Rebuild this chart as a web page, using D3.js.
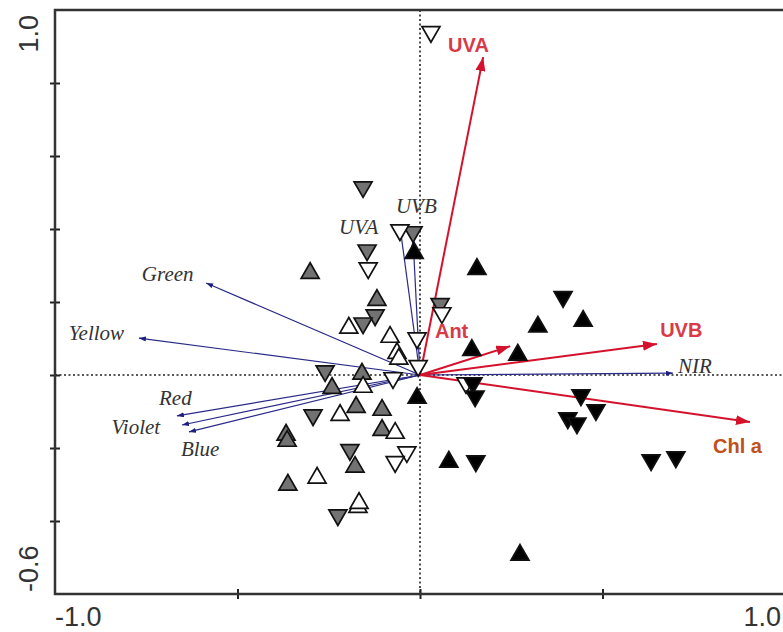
<!DOCTYPE html>
<html>
<head>
<meta charset="utf-8">
<script src="https://cdn.jsdelivr.net/npm/d3@7"></script>
<style>
  body { margin: 0; background: #fff; }
  .tick-label { font-family: "Liberation Sans", Arial, sans-serif; font-size: 27px; fill: #333; }
  .light-label { font-family: "Liberation Serif", "Times New Roman", serif; font-style: italic; font-size: 21px; fill: #333; }
  .env-label { font-family: "Liberation Sans", Arial, sans-serif; font-weight: bold; font-size: 20px; }
</style>
</head>
<body>
<svg id="chart"></svg>
<script>
// sample scores, by group (fill) and shape
const blackUp = [[0.156, 0.290], [-0.016, 0.334], [0.323, 0.132], [0.447, 0.148], [0.268, 0.055],
  [0.142, 0.068], [-0.008, -0.063], [0.079, -0.238], [0.274, -0.493]];
const blackDown = [[0.392, 0.214], [0.145, -0.022], [0.151, -0.058], [0.441, -0.055], [0.482, -0.096],
  [0.405, -0.118], [0.430, -0.132], [0.153, -0.236], [0.633, -0.233], [0.701, -0.225]];
const grayUp = [[-0.301, 0.279], [-0.118, 0.205], [-0.159, 0.003], [-0.241, -0.036], [-0.175, -0.088],
  [-0.104, -0.096], [-0.367, -0.164], [-0.364, -0.181], [-0.104, -0.151], [-0.178, -0.252], [-0.362, -0.301]];
const grayDown = [[-0.156, 0.515], [-0.019, 0.392], [-0.145, 0.342], [-0.123, 0.164], [-0.156, 0.142],
  [0.055, 0.195], [-0.260, 0.011], [-0.293, -0.110], [-0.192, -0.205], [-0.225, -0.384]];
const whiteUp = [[-0.195, 0.129], [-0.082, 0.104], [-0.063, 0.060], [-0.058, 0.044], [-0.156, -0.033],
  [-0.219, -0.110], [-0.068, -0.159], [-0.282, -0.282], [-0.170, -0.362], [-0.167, -0.351]];
const whiteDown = [[0.030, 0.940], [-0.055, 0.397], [-0.142, 0.293], [0.060, 0.170], [-0.008, 0.101],
  [-0.005, 0.025], [-0.074, -0.008], [-0.036, -0.211], [-0.068, -0.238], [0.126, -0.022]];

// environmental vectors (red) and light vectors (blue)
const envNames = ["UVA", "UVB", "Ant", "Chl a"];
const envTips = [[0.173, 0.871], [0.649, 0.085], [0.247, 0.079], [0.904, -0.129]];
const envLabelAt = [[0.077, 0.885], [0.658, 0.104], [0.041, 0.101], [0.803, -0.214]];

const lightNames = ["Green", "Yellow", "Red", "Violet", "Blue", "UVA", "UVB", "NIR"];
const lightTips = [[-0.586, 0.252], [-0.770, 0.101], [-0.666, -0.112], [-0.652, -0.137],
  [-0.633, -0.156], [-0.055, 0.408], [-0.019, 0.370], [0.693, 0.005]];
const lightLabelAt = [[-0.762, 0.258], [-0.962, 0.096], [-0.715, -0.082], [-0.845, -0.162],
  [-0.655, -0.222], [-0.222, 0.386], [-0.066, 0.444], [0.707, 0.005]];

const xTicks = [-0.5, 0, 0.5];
const yTicks = [-0.4, -0.2, 0, 0.2, 0.4, 0.6, 0.8];
const xEndLabels = ["-1.0", "1.0"];
const yEndLabels = ["-0.6", "1.0"];

const width = 783, height = 632;
const svg = d3.select("#chart").attr("width", width).attr("height", height);

const x = d3.scaleLinear().domain([-1, 1]).range([55, 785]);
const y = d3.scaleLinear().domain([-0.6, 1.0]).range([594, 10]);

// arrow heads
const defs = svg.append("defs");
defs.append("marker").attr("id", "headRed")
    .attr("viewBox", "0 0 14 10").attr("refX", 14).attr("refY", 5)
    .attr("markerWidth", 14).attr("markerHeight", 10)
    .attr("markerUnits", "userSpaceOnUse").attr("orient", "auto")
  .append("path").attr("d", "M0,0L14,5L0,10z").attr("fill", "#d4122c");
defs.append("marker").attr("id", "headBlue")
    .attr("viewBox", "0 0 7 5").attr("refX", 7).attr("refY", 2.5)
    .attr("markerWidth", 7).attr("markerHeight", 5)
    .attr("markerUnits", "userSpaceOnUse").attr("orient", "auto")
  .append("path").attr("d", "M0,0L7,2.5L0,5z").attr("fill", "#1f1f80");

// dotted zero lines
svg.append("line").attr("x1", x(0)).attr("x2", x(0)).attr("y1", y(1.0)).attr("y2", y(-0.6))
    .attr("stroke", "#222").attr("stroke-width", 1.6).attr("stroke-dasharray", "2,2.5");
svg.append("line").attr("x1", x(-1)).attr("x2", x(1)).attr("y1", y(0)).attr("y2", y(0))
    .attr("stroke", "#222").attr("stroke-width", 1.6).attr("stroke-dasharray", "2,2.5");

// axes: ticks crossing the frame
const yAxis = svg.append("g").attr("transform", `translate(${x(-1) + 5},0)`)
    .call(d3.axisLeft(y).tickValues(yTicks).tickSize(10).tickFormat(""));
const xAxis = svg.append("g").attr("transform", `translate(0,${y(-0.6) - 5})`)
    .call(d3.axisBottom(x).tickValues(xTicks).tickSize(10).tickFormat(""));
[yAxis, xAxis].forEach(g => {
  g.select(".domain").remove();
  g.selectAll(".tick line").attr("stroke", "#222").attr("stroke-width", 2);
});

// frame (left, top, bottom)
svg.append("path")
    .attr("d", `M${x(1) + 5},${y(1.0)}H${x(-1)}V${y(-0.6)}H${x(1) + 5}`)
    .attr("fill", "none").attr("stroke", "#333").attr("stroke-width", 2.5);

// end tick labels
svg.append("text").attr("class", "tick-label").attr("x", x(-1)).attr("y", 626)
    .attr("text-anchor", "start").text(xEndLabels[0]);
svg.append("text").attr("class", "tick-label").attr("x", 781).attr("y", 626)
    .attr("text-anchor", "end").text(xEndLabels[1]);
svg.append("text").attr("class", "tick-label").attr("transform", `translate(38,${y(-0.6) - 2}) rotate(-90)`)
    .attr("text-anchor", "start").text(yEndLabels[0]);
svg.append("text").attr("class", "tick-label").attr("transform", `translate(38,${y(1.0) + 5}) rotate(-90)`)
    .attr("text-anchor", "end").text(yEndLabels[1]);

// light vectors
svg.append("g").selectAll("line").data(lightTips).join("line")
    .attr("x1", x(0)).attr("y1", y(0))
    .attr("x2", d => x(d[0])).attr("y2", d => y(d[1]))
    .attr("stroke", "#2a2a88").attr("stroke-width", 1.2)
    .attr("marker-end", "url(#headBlue)");

// environmental vectors
svg.append("g").selectAll("line").data(envTips).join("line")
    .attr("x1", x(0)).attr("y1", y(0))
    .attr("x2", d => x(d[0])).attr("y2", d => y(d[1]))
    .attr("stroke", "#d4122c").attr("stroke-width", 2)
    .attr("marker-end", "url(#headRed)");

// sample symbols
const tri = d3.symbol().type(d3.symbolTriangle).size(140);
const groups = [
  { pts: grayUp, fill: "#727272", down: false },
  { pts: grayDown, fill: "#727272", down: true },
  { pts: whiteUp, fill: "#fff", down: false },
  { pts: whiteDown, fill: "#fff", down: true },
  { pts: blackUp, fill: "#000", down: false },
  { pts: blackDown, fill: "#000", down: true }
];
groups.forEach(gr => {
  svg.append("g").selectAll("path").data(gr.pts).join("path")
      .attr("d", tri)
      .attr("transform", d => `translate(${x(d[0])},${y(d[1])})` + (gr.down ? " rotate(180)" : ""))
      .attr("fill", gr.fill).attr("stroke", "#111").attr("stroke-width", 1.7)
      .attr("stroke-linejoin", "miter");
});

// labels
svg.append("g").selectAll("text").data(lightNames).join("text")
    .attr("class", "light-label")
    .attr("x", (d, i) => x(lightLabelAt[i][0])).attr("y", (d, i) => y(lightLabelAt[i][1]))
    .text(d => d);
svg.append("g").selectAll("text").data(envNames).join("text")
    .attr("class", "env-label")
    .attr("x", (d, i) => x(envLabelAt[i][0])).attr("y", (d, i) => y(envLabelAt[i][1]))
    .attr("fill", d => d === "Chl a" ? "#c0501c" : "#d83a48")
    .text(d => d);
</script>
</body>
</html>
